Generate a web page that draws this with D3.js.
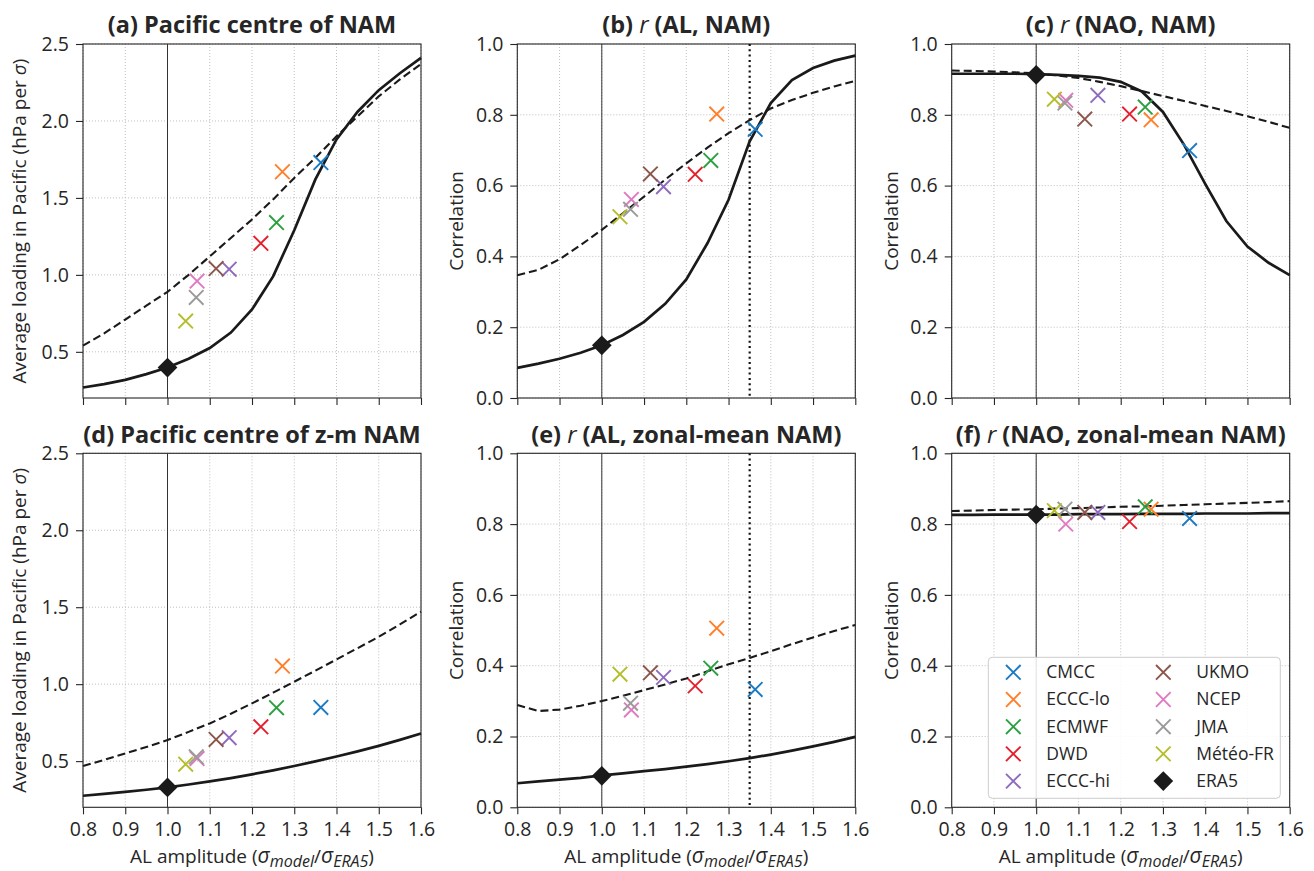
<!DOCTYPE html>
<html><head><meta charset="utf-8">
<script src="https://cdn.jsdelivr.net/npm/d3@7"></script>
<style>
body{margin:0;background:#fff;}
text{font-family:"Open Sans","Noto Sans",sans-serif;fill:#262626;}
</style></head>
<body><svg id="chart" width="1314" height="871"></svg>
<script>
// ---------- data ----------
const xTicks = [0.8, 0.9, 1.0, 1.1, 1.2, 1.3, 1.4, 1.5, 1.6];
const loadTicks = [0.5, 1.0, 1.5, 2.0, 2.5];
const corrTicks = [0.0, 0.2, 0.4, 0.6, 0.8, 1.0];
const models = ["CMCC", "ECCC-lo", "ECMWF", "DWD", "ECCC-hi", "UKMO", "NCEP", "JMA", "Météo-FR"];
const modelColors = ["#1a7bc4", "#ff7f2a", "#2ca040", "#e4202e", "#8f6bbf", "#8c564b", "#e07ac0", "#9a9a9a", "#b5bd2a"];
const modelAmp = [1.363, 1.272, 1.258, 1.221, 1.146, 1.115, 1.070, 1.068, 1.043];
const era5Amp = 1.0;
const thresholdAmp = 1.35;
const curveX = [0.80, 0.85, 0.90, 0.95, 1.00, 1.05, 1.10, 1.15, 1.20, 1.25, 1.30, 1.35, 1.40, 1.45, 1.50, 1.55, 1.60];

// (a) Pacific centre of NAM
const aModels = [1.73, 1.67, 1.34, 1.205, 1.037, 1.041, 0.96, 0.853, 0.70];
const aEra5 = 0.398;
const aSolid = [0.268, 0.290, 0.318, 0.355, 0.398, 0.455, 0.525, 0.625, 0.775, 0.990, 1.290, 1.620, 1.880, 2.060, 2.200, 2.310, 2.410];
const aDashed = [0.54, 0.62, 0.71, 0.80, 0.89, 1.00, 1.12, 1.24, 1.36, 1.49, 1.63, 1.76, 1.90, 2.03, 2.16, 2.27, 2.37];
// (b) r(AL, NAM)
const bModels = [0.759, 0.802, 0.671, 0.632, 0.597, 0.633, 0.561, 0.533, 0.512];
const bEra5 = 0.149;
const bSolid = [0.085, 0.097, 0.111, 0.128, 0.149, 0.178, 0.215, 0.266, 0.335, 0.437, 0.560, 0.725, 0.833, 0.898, 0.932, 0.953, 0.967];
const bDashed = [0.347, 0.362, 0.392, 0.432, 0.475, 0.522, 0.569, 0.617, 0.663, 0.707, 0.748, 0.785, 0.818, 0.842, 0.862, 0.880, 0.896];
// (c) r(NAO, NAM)
const cModels = [0.699, 0.786, 0.822, 0.802, 0.855, 0.788, 0.841, 0.833, 0.844];
const cEra5 = 0.913;
const cSolid = [0.916, 0.916, 0.916, 0.916, 0.915, 0.913, 0.910, 0.905, 0.893, 0.866, 0.808, 0.715, 0.605, 0.500, 0.428, 0.382, 0.347];
const cDashed = [0.925, 0.924, 0.922, 0.920, 0.917, 0.911, 0.904, 0.893, 0.881, 0.867, 0.853, 0.839, 0.825, 0.811, 0.796, 0.780, 0.763];
// (d) Pacific centre of z-m NAM
const dModels = [0.849, 1.118, 0.847, 0.723, 0.652, 0.641, 0.517, 0.528, 0.480];
const dEra5 = 0.329;
const dSolid = [0.275, 0.287, 0.300, 0.314, 0.330, 0.348, 0.368, 0.390, 0.414, 0.440, 0.468, 0.498, 0.530, 0.563, 0.599, 0.638, 0.680];
const dDashed = [0.468, 0.508, 0.550, 0.592, 0.637, 0.690, 0.745, 0.808, 0.875, 0.945, 1.016, 1.088, 1.161, 1.234, 1.308, 1.388, 1.471];
// (e) r(AL, zonal-mean NAM)
const eModels = [0.333, 0.506, 0.393, 0.343, 0.367, 0.380, 0.275, 0.294, 0.376];
const eEra5 = 0.089;
const eSolid = [0.068, 0.073, 0.078, 0.083, 0.090, 0.096, 0.102, 0.108, 0.115, 0.122, 0.130, 0.139, 0.149, 0.160, 0.172, 0.185, 0.199];
const eDashed = [0.289, 0.272, 0.276, 0.287, 0.300, 0.315, 0.331, 0.347, 0.364, 0.384, 0.404, 0.422, 0.441, 0.461, 0.480, 0.498, 0.515];
// (f) r(NAO, zonal-mean NAM)
const fModels = [0.816, 0.842, 0.849, 0.807, 0.833, 0.833, 0.800, 0.842, 0.838];
const fEra5 = 0.827;
const fSolid = [0.826, 0.826, 0.827, 0.827, 0.827, 0.827, 0.828, 0.828, 0.828, 0.829, 0.829, 0.829, 0.830, 0.830, 0.830, 0.831, 0.831];
const fDashed = [0.837, 0.838, 0.840, 0.841, 0.842, 0.844, 0.845, 0.847, 0.849, 0.850, 0.852, 0.854, 0.856, 0.858, 0.860, 0.862, 0.865];

// ---------- layout ----------
const svg = d3.select("#chart");
const colLeft = [83, 517.3, 951.7];
const rowTop = [44, 453.3];
const W = 338, H = 354;
const FONT = '"Open Sans","Noto Sans",sans-serif';
const panels = [
  {title:[["(a) Pacific centre of NAM","b"]], ylab:"load", dom:[0.2,2.5], ticks:loadTicks, m:aModels, era:aEra5, s:aSolid, d:aDashed, col:0, row:0, thr:false},
  {title:[["(b) ","b"],["r","i"],[" (AL, NAM)","b"]], ylab:"corr", dom:[0,1], ticks:corrTicks, m:bModels, era:bEra5, s:bSolid, d:bDashed, col:1, row:0, thr:true},
  {title:[["(c) ","b"],["r","i"],[" (NAO, NAM)","b"]], ylab:"corr", dom:[0,1], ticks:corrTicks, m:cModels, era:cEra5, s:cSolid, d:cDashed, col:2, row:0, thr:false},
  {title:[["(d) Pacific centre of z-m NAM","b"]], ylab:"load", dom:[0.2,2.5], ticks:loadTicks, m:dModels, era:dEra5, s:dSolid, d:dDashed, col:0, row:1, thr:false},
  {title:[["(e) ","b"],["r","i"],[" (AL, zonal-mean NAM)","b"]], ylab:"corr", dom:[0,1], ticks:corrTicks, m:eModels, era:eEra5, s:eSolid, d:eDashed, col:1, row:1, thr:true},
  {title:[["(f) ","b"],["r","i"],[" (NAO, zonal-mean NAM)","b"]], ylab:"corr", dom:[0,1], ticks:corrTicks, m:fModels, era:fEra5, s:fSolid, d:fDashed, col:2, row:1, thr:false, legend:true}
];

const xMark = (s) => `M${-s},${-s}L${s},${s}M${-s},${s}L${s},${-s}`;

panels.forEach(p => {
  const x0 = colLeft[p.col], y0 = rowTop[p.row];
  const g = svg.append("g").attr("transform", `translate(${x0},${y0})`);
  const x = d3.scaleLinear().domain([0.8, 1.6]).range([0, W]);
  const y = d3.scaleLinear().domain(p.dom).range([H, 0]);

  // grid
  g.append("g").selectAll("line").data(xTicks).join("line")
    .attr("x1", d => x(d)).attr("x2", d => x(d)).attr("y1", 0).attr("y2", H)
    .attr("stroke", "#b8b8b8").attr("stroke-width", 0.9).attr("stroke-dasharray", "1,2");
  g.append("g").selectAll("line").data(p.ticks).join("line")
    .attr("x1", 0).attr("x2", W).attr("y1", d => y(d)).attr("y2", d => y(d))
    .attr("stroke", "#b8b8b8").attr("stroke-width", 0.9).attr("stroke-dasharray", "1,2");

  // axes
  const xa = d3.axisBottom(x).tickValues(xTicks).tickSize(7).tickPadding(8)
    .tickFormat(p.row === 1 ? d3.format(".1f") : () => "");
  const gx = g.append("g").attr("transform", `translate(0,${H})`).call(xa);
  const ya = d3.axisLeft(y).tickValues(p.ticks).tickSize(7).tickPadding(7).tickFormat(d3.format(".1f"));
  const gy = g.append("g").call(ya);
  [gx, gy].forEach(a => {
    a.select(".domain").remove();
    a.selectAll("line").attr("stroke", "#262626").attr("stroke-width", 1.1);
    a.selectAll("text").attr("font-size", 19.5).attr("fill", "#262626").style("font-family", FONT);
  });
  g.append("rect").attr("width", W).attr("height", H).attr("fill", "none")
    .attr("stroke", "#262626").attr("stroke-width", 1.1);

  // reference lines
  g.append("line").attr("x1", x(era5Amp)).attr("x2", x(era5Amp)).attr("y1", 0).attr("y2", H)
    .attr("stroke", "#333").attr("stroke-width", 1);
  if (p.thr) {
    g.append("line").attr("x1", x(thresholdAmp)).attr("x2", x(thresholdAmp)).attr("y1", 0).attr("y2", H)
      .attr("stroke", "#111").attr("stroke-width", 2.2).attr("stroke-dasharray", "2,3.3");
  }

  // curves
  const line = d3.line().x((d, i) => x(curveX[i])).y(d => y(d));
  g.append("path").attr("d", line(p.d)).attr("fill", "none").attr("stroke", "#1a1a1a")
    .attr("stroke-width", 2.1).attr("stroke-dasharray", "8,4");
  g.append("path").attr("d", line(p.s)).attr("fill", "none").attr("stroke", "#1a1a1a")
    .attr("stroke-width", 2.7);

  // models
  g.append("g").selectAll("path").data(p.m).join("path")
    .attr("transform", (d, i) => `translate(${x(modelAmp[i])},${y(d)})`)
    .attr("d", xMark(7.3)).attr("stroke", (d, i) => modelColors[i]).attr("stroke-width", 1.9).attr("fill", "none");

  // ERA5
  g.append("path").attr("transform", `translate(${x(era5Amp)},${y(p.era)}) rotate(45)`)
    .attr("d", d3.symbol().type(d3.symbolSquare).size(195)()).attr("fill", "#1a1a1a");

  // title
  const t = g.append("text").attr("x", W / 2).attr("y", p.row === 0 ? -11 : -10.5).attr("text-anchor", "middle")
    .attr("font-size", 23.5);
  p.title.forEach(([s, st]) => {
    t.append("tspan").text(s).attr("font-weight", st === "b" ? "bold" : "normal")
      .attr("font-style", st === "i" ? "italic" : "normal");
  });

  // y label
  const yl = g.append("text").attr("transform", `translate(${p.ylab === "load" ? -57.5 : -54},${H / 2}) rotate(-90)`)
    .attr("text-anchor", "middle").attr("font-size", 19);
  if (p.ylab === "load") {
    yl.append("tspan").text("Average loading in Pacific (hPa per ");
    yl.append("tspan").text("σ").attr("font-style", "italic");
    yl.append("tspan").text(")");
  } else {
    yl.text("Correlation");
  }

  // x label
  if (p.row === 1) {
    const xl = g.append("text").attr("x", W / 2).attr("y", H + 56).attr("text-anchor", "middle").attr("font-size", 19);
    xl.append("tspan").text("AL amplitude (");
    xl.append("tspan").text("σ").attr("font-style", "italic").attr("font-size", 21);
    xl.append("tspan").text("model").attr("font-style", "italic").attr("font-size", 16).attr("dy", 3.3);
    xl.append("tspan").text("/").attr("dy", -3.3);
    xl.append("tspan").text("σ").attr("font-style", "italic").attr("font-size", 21);
    xl.append("tspan").text("ERA5").attr("font-style", "italic").attr("font-size", 16).attr("dy", 3.3);
    xl.append("tspan").text(")").attr("dy", -3.3);
  }

  // legend
  if (p.legend) {
    const lg = g.append("g").attr("transform", `translate(${988.3 - x0},${657.3 - y0})`);
    lg.append("rect").attr("width", 292).attr("height", 141).attr("rx", 4)
      .attr("fill", "#fff").attr("fill-opacity", 0.85).attr("stroke", "#cccccc");
    const items = models.map((m, i) => ({name: m, color: modelColors[i], era: false}))
      .concat([{name: "ERA5", color: "#1a1a1a", era: true}]);
    items.forEach((it, i) => {
      const c = Math.floor(i / 5), r = i % 5;
      const ix = 25 + c * 150, iy = 15 + r * 27.2;
      if (it.era) {
        lg.append("path").attr("transform", `translate(${ix},${iy}) rotate(45)`)
          .attr("d", d3.symbol().type(d3.symbolSquare).size(195)()).attr("fill", it.color);
      } else {
        lg.append("path").attr("transform", `translate(${ix},${iy})`).attr("d", xMark(7.3))
          .attr("stroke", it.color).attr("stroke-width", 1.9).attr("fill", "none");
      }
      lg.append("text").attr("x", ix + 33).attr("y", iy + 6).attr("font-size", 17.5).text(it.name);
    });
  }
});
</script></body></html>
